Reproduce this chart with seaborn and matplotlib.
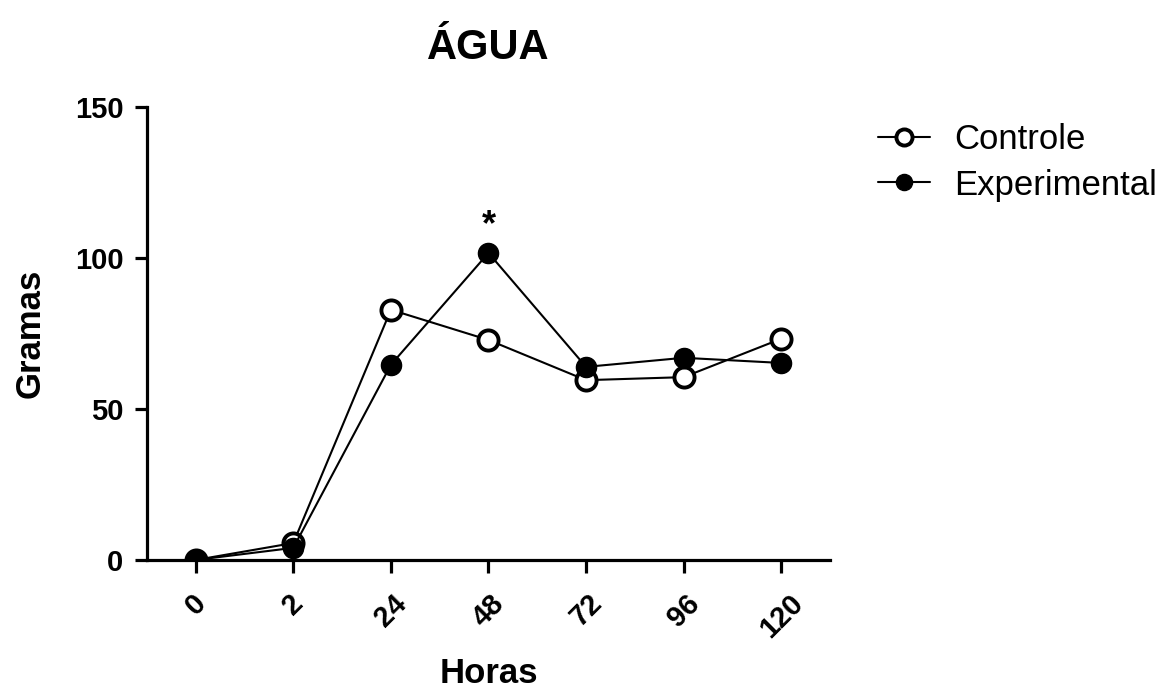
import matplotlib
matplotlib.use("Agg")
import matplotlib.pyplot as plt
import seaborn as sns
import pandas as pd

horas = ["0", "2", "24", "48", "72", "96", "120"]
controle = [0, 5.6, 82.8, 72.8, 59.5, 60.5, 73.2]
experimental = [0, 4.0, 64.6, 101.6, 63.9, 66.9, 65.2]
yticks = [0, 50, 100, 150]

sns.set_theme(style="ticks")
plt.rcParams["font.family"] = ["Liberation Sans", "DejaVu Sans"]
for k in ["text.color", "axes.labelcolor", "xtick.color", "ytick.color", "axes.edgecolor"]:
    plt.rcParams[k] = "black"

df = pd.DataFrame({
    "Horas": horas * 2,
    "Gramas": controle + experimental,
    "Grupo": ["Controle"] * len(horas) + ["Experimental"] * len(horas),
})

fig = plt.figure(figsize=(11.7, 6.93), dpi=100)
ax = fig.add_axes([0.1256, 0.192, 0.5838, 0.654])

pos = list(range(len(horas)))
sns.lineplot(x=pos, y=controle, ax=ax, color="black", lw=1.5, marker="o",
             markersize=14.5, markerfacecolor="white", markeredgecolor="black",
             markeredgewidth=2.8, label="Controle", zorder=3)
sns.lineplot(x=pos, y=experimental, ax=ax, color="black", lw=1.5, marker="o",
             markersize=14.5, markerfacecolor="black", markeredgecolor="black",
             markeredgewidth=1, label="Experimental", zorder=4)

ax.set_xlim(-0.5, 6.5)
ax.set_ylim(0, 150)
ax.set_xticks(pos)
ax.set_xticklabels(horas, rotation=45, ha="center", va="top",
                   fontsize=21, fontweight="bold")
ax.set_yticks(yticks)
ax.set_yticklabels([str(v) for v in yticks], fontsize=21, fontweight="bold")
ax.tick_params(axis="both", width=2.3, length=9, direction="out")
ax.tick_params(axis="x", pad=12)
ax.tick_params(axis="y", pad=8)
for s in ["left", "bottom"]:
    ax.spines[s].set_linewidth(2.3)
for s in ["top", "right"]:
    ax.spines[s].set_visible(False)

ax.set_xlabel("Horas", fontsize=25, fontweight="bold", labelpad=10)
ax.set_ylabel("Gramas", fontsize=25, fontweight="bold", labelpad=20)
ax.set_title("ÁGUA", fontsize=30, fontweight="bold", pad=34)

ax.text(3, 105, "*", ha="center", va="bottom", fontsize=26, fontweight="bold")

ax.legend(loc="upper left", bbox_to_anchor=(1.07, 0.963), frameon=False,
          borderpad=0, borderaxespad=0,
          fontsize=25, handlelength=1.5, handletextpad=0.7, labelspacing=0.35,
          markerscale=0.8)

fig.savefig("out.png", dpi=100)
